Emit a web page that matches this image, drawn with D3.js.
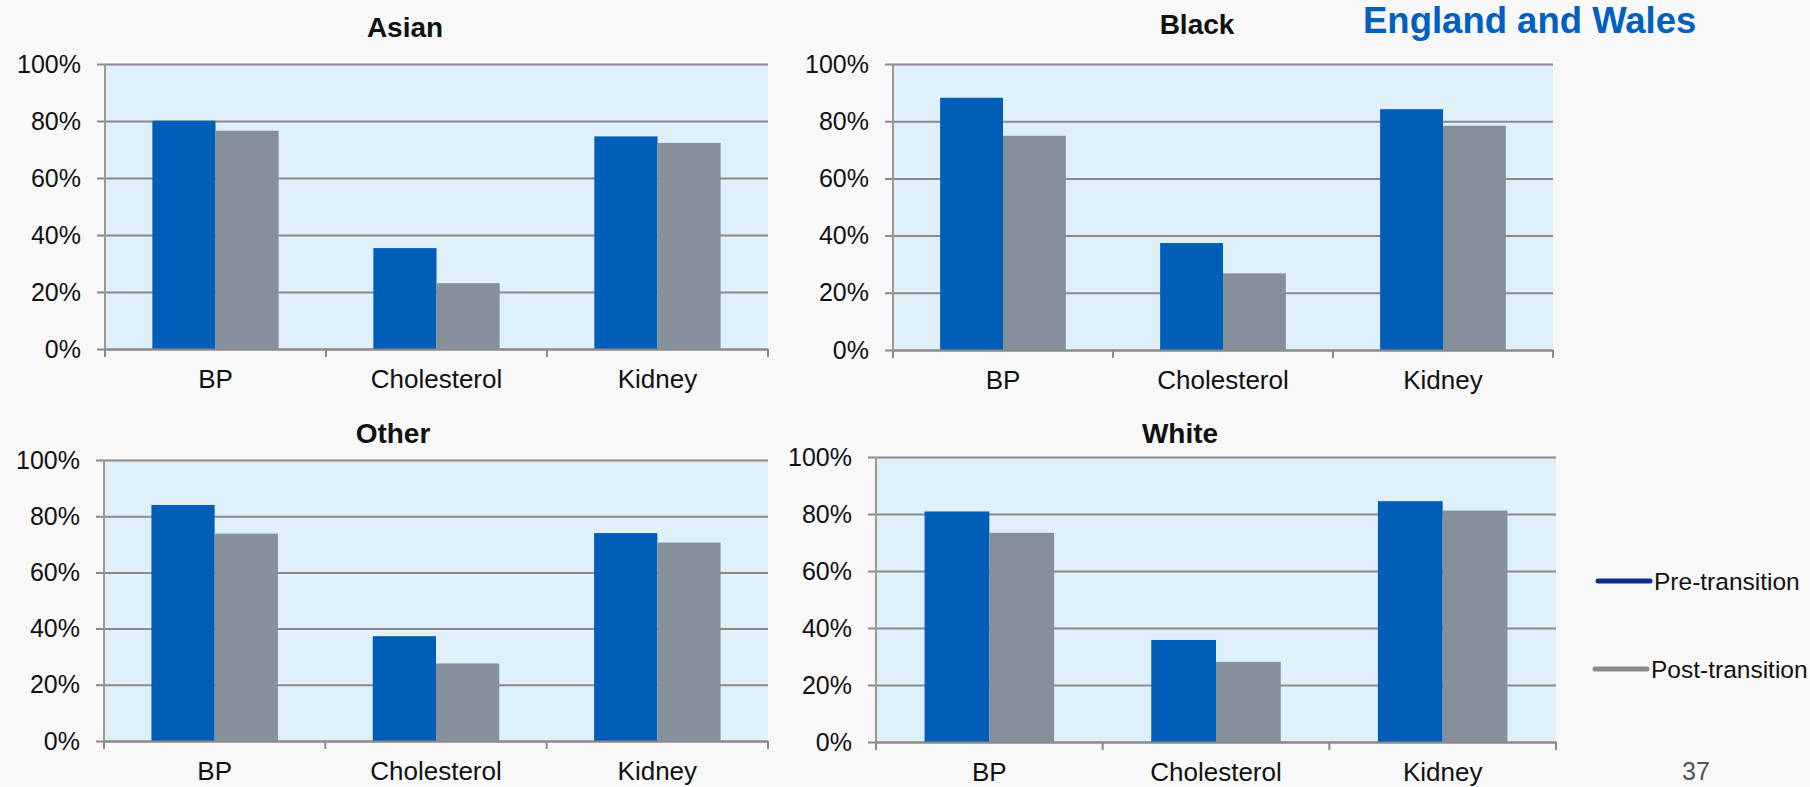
<!DOCTYPE html>
<html>
<head>
<meta charset="utf-8">
<script src="https://cdn.jsdelivr.net/npm/d3@7"></script>
<style>
  html, body { margin: 0; padding: 0; background: #f8f8f8; }
  svg { display: block; }
  text { font-family: "Liberation Sans", Arial, sans-serif; }
</style>
</head>
<body>
<svg id="chart" width="1810" height="787"></svg>
<script>
// ---- data ----
const panelTitles = ["Asian", "Black", "Other", "White"];
const categories = ["BP", "Cholesterol", "Kidney"];
const seriesNames = ["Pre-transition", "Post-transition"];
const preTransition = [
  [80.1, 35.4, 74.6],   // Asian
  [88.2, 37.4, 84.2],   // Black
  [84.0, 37.3, 74.0],   // Other
  [80.9, 35.8, 84.5]    // White
];
const postTransition = [
  [76.6, 23.1, 72.3],
  [74.9, 26.8, 78.4],
  [73.8, 27.6, 70.6],
  [73.4, 28.1, 81.2]
];
const yTicks = [0, 20, 40, 60, 80, 100];
const headline = "England and Wales";
const pageNumber = "37";

// ---- layout ----
const panelBoxes = [
  { x0: 105, x1: 768, y0: 64, y1: 349, tx: 405, ty: 37 },
  { x0: 893, x1: 1553, y0: 64, y1: 350, tx: 1197, ty: 34 },
  { x0: 104, x1: 768, y0: 460, y1: 741, tx: 393, ty: 443 },
  { x0: 876, x1: 1556, y0: 457, y1: 742, tx: 1180, ty: 443 }
];
const colors = { pre: "#005eb8", post: "#85909b", grid: "#8a8a8a", plot: "#dff0f8" };
const legendColors = ["#0a2f8a", "#8a8a8a"];

const svg = d3.select("#chart");

panelTitles.forEach((title, i) => {
  const b = panelBoxes[i];
  const g = svg.append("g");
  const x = d3.scaleBand().domain(categories).range([b.x0, b.x1]).paddingInner(0).paddingOuter(0);
  const bw = x.bandwidth() / 3.5;
  const xs = d3.scaleBand().domain(seriesNames).range([0.75 * bw, 2.75 * bw]);
  const y = d3.scaleLinear().domain([0, 100]).range([b.y1, b.y0]);

  // plot background
  g.append("rect").attr("x", b.x0).attr("y", b.y0)
    .attr("width", b.x1 - b.x0).attr("height", b.y1 - b.y0)
    .attr("fill", colors.plot);

  // gridlines + y axis
  const yAxis = d3.axisLeft(y).tickValues(yTicks).tickFormat(d => d + "%")
    .tickSize(-(b.x1 - b.x0)).tickPadding(24);
  const ya = g.append("g").attr("transform", `translate(${b.x0},0)`).call(yAxis);
  ya.select(".domain").remove();
  ya.selectAll(".tick line").attr("stroke", colors.grid).attr("stroke-width", 2)
    .attr("x1", -8);
  ya.selectAll(".tick text").attr("font-size", 25).attr("fill", "#111")
    .attr("font-family", "'Liberation Sans', Arial, sans-serif");

  // bars
  const rows = categories.map((c, k) => ({ c, pre: preTransition[i][k], post: postTransition[i][k] }));
  const grp = g.selectAll(".cat").data(rows).enter().append("g")
    .attr("transform", d => `translate(${x(d.c)},0)`);
  grp.append("rect").attr("x", xs("Pre-transition")).attr("width", xs.bandwidth())
    .attr("y", d => y(d.pre)).attr("height", d => y(0) - y(d.pre)).attr("fill", colors.pre);
  grp.append("rect").attr("x", xs("Post-transition")).attr("width", xs.bandwidth())
    .attr("y", d => y(d.post)).attr("height", d => y(0) - y(d.post)).attr("fill", colors.post);

  // left axis line
  g.append("line").attr("x1", b.x0).attr("x2", b.x0).attr("y1", b.y0).attr("y2", b.y1)
    .attr("stroke", "#999").attr("stroke-width", 2);

  // x axis
  const xAxis = d3.axisBottom(x).tickSize(0).tickPadding(21);
  const xa = g.append("g").attr("transform", `translate(0,${b.y1})`).call(xAxis);
  xa.select(".domain").attr("stroke", colors.grid).attr("stroke-width", 2);
  xa.selectAll(".tick text").attr("font-size", 26).attr("fill", "#111")
    .attr("font-family", "'Liberation Sans', Arial, sans-serif");
  const edges = categories.map(c => x(c)).concat([b.x1]);
  xa.selectAll(".edge").data(edges).enter().append("line")
    .attr("x1", d => d).attr("x2", d => d).attr("y1", 0).attr("y2", 8)
    .attr("stroke", colors.grid).attr("stroke-width", 2);

  // title
  g.append("text").attr("x", b.tx).attr("y", b.ty).attr("text-anchor", "middle")
    .attr("font-size", 28).attr("font-weight", "bold").attr("fill", "#111").text(title);
});

// legend
const legendY = [581, 669];
const legendX = [1598, 1595];
seriesNames.forEach((s, i) => {
  svg.append("line").attr("x1", legendX[i]).attr("x2", legendX[i] + 52)
    .attr("y1", legendY[i]).attr("y2", legendY[i])
    .attr("stroke", legendColors[i]).attr("stroke-width", 5).attr("stroke-linecap", "round");
  svg.append("text").attr("x", legendX[i] + 56).attr("y", legendY[i] + 9)
    .attr("font-size", 24.5).attr("fill", "#111").text(s);
});

// headline and page number
svg.append("text").attr("x", 1363).attr("y", 33).attr("font-size", 36.5)
  .attr("font-weight", "bold").attr("fill", "#0060bf").text(headline);
svg.append("text").attr("x", 1682).attr("y", 780).attr("font-size", 25)
  .attr("fill", "#4a5560").text(pageNumber);
</script>
</body>
</html>
